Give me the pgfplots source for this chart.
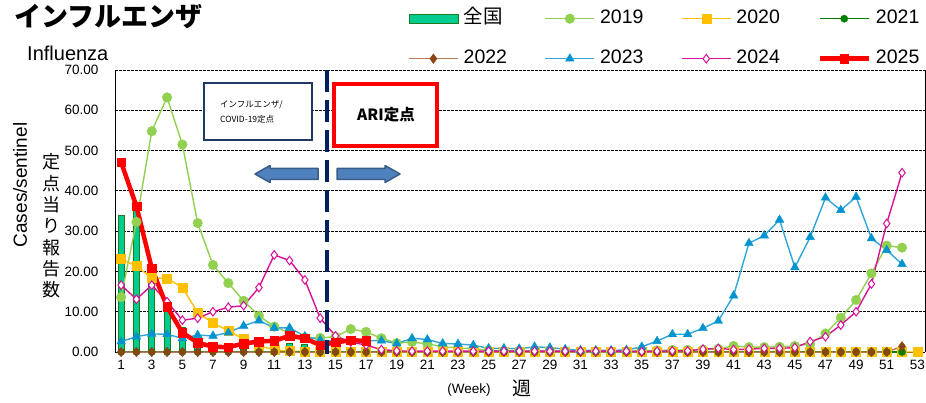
\documentclass[border=0pt]{standalone}
\usepackage{fontspec}
\setmainfont{Liberation Sans}
\newfontfamily\cjk{Noto Sans CJK JP}
\usepackage{pgfplots}
\usepackage{pgfplotstable}
\pgfplotsset{compat=1.18}
\definecolor{barfill}{HTML}{00CC8F}
\definecolor{bardraw}{HTML}{1E7B1E}
\definecolor{c19}{HTML}{92D050}
\definecolor{c20}{HTML}{FFC000}
\definecolor{c21}{HTML}{008000}
\definecolor{c22l}{HTML}{B97A57}
\definecolor{c22m}{HTML}{8B4513}
\definecolor{c23l}{HTML}{2EA6DA}
\definecolor{c23m}{HTML}{0093D0}
\definecolor{c24}{HTML}{D8119A}
\definecolor{c25}{HTML}{FF0000}
\definecolor{navy}{HTML}{002060}
\definecolor{boxnavy}{HTML}{1F3864}
\definecolor{arrfill}{HTML}{4F81BD}
\definecolor{arrdraw}{HTML}{385D8A}

\pgfplotstableread{
week y19 y20 y21 y22 y23 y24
1 13.6 23.1 0 0 2.6 16.6
2 32.3 21.3 0 0 3.8 13.1
3 54.8 18.4 0 0 4.5 16.6
4 63.2 18.3 0 0 4.4 12.5
5 51.5 16.0 0 0 3.4 7.9
6 32.0 9.8 0 0 4.2 8.4
7 21.6 7.2 0 0 4.0 10.0
8 17.1 5.3 0 0 4.8 11.1
9 12.7 3.2 0 0 6.5 11.5
10 9.0 1.5 0 0 7.8 16.0
11 6.3 0.6 0 0 6.0 24.1
12 4.7 0.2 0 0 6.0 22.7
13 3.6 0.1 0 0 3.9 17.9
14 3.5 0 0 0 3.0 8.4
15 3.8 0 0 0 2.6 4.0
16 5.7 0 0 0 2.6 2.5
17 5.0 0 0 0 2.8 1.7
18 3.4 0 0 0 2.8 0.6
19 2.2 0 0 0 2.1 0.3
20 2.5 0 0 0 3.4 0.2
21 2.0 0 0 0 3.1 0.2
22 1.3 0 0 0 2.1 0.2
23 1.0 0 0 0 2.0 0.2
24 0.8 0 0 0 1.7 0.2
25 0.4 0 0 0 0.9 0.2
26 0.3 0 0 0 0.9 0.2
27 0.3 0 0 0 0.8 0.2
28 0.2 0 0 0 1.3 0.2
29 0.2 0 0 0 1.1 0.2
30 0.2 0 0 0 0.7 0.2
31 0.2 0 0 0 0.4 0.2
32 0.2 0 0 0 0.4 0.2
33 0.2 0 0 0 0.4 0.2
34 0.2 0 0 0 0.5 0.2
35 0.3 0 0 0 1.3 0.1
36 0.4 0 0 0 2.7 0.2
37 0.5 0 0 0 4.4 0.3
38 0.5 0 0 0 4.4 0.3
39 0.6 0 0 0 5.9 0.7
40 0.8 0 0 0 7.7 0.9
41 1.5 0 0 0 14.0 0.6
42 1.2 0 0 0 27.0 0.7
43 1.2 0 0 0 28.9 0.9
44 1.3 0 0 0 32.8 0.9
45 1.5 0 0 0 21.0 1.1
46 2.0 0 0 0 28.5 2.6
47 4.6 0 0 0 38.3 3.8
48 8.5 0 0 0 35.2 6.7
49 12.9 0 0 0 38.5 10.0
50 19.5 0 0 0 28.2 16.9
51 26.4 0 0 0 25.3 31.9
52 25.9 0 0 1.4 21.8 44.5
53 nan 0 nan nan nan nan
}\yeardata

\pgfplotsset{
  lineleg/.style={legend image code/.code={%
    \draw[mark repeat=2, mark phase=2, ##1] plot coordinates {(0pt,0pt) (24.5pt,0pt) (49pt,0pt)};}},
}

\begin{document}
\begin{tikzpicture}[x=1pt,y=1pt]
\useasboundingbox (0,0) rectangle (926,402);
\begin{axis}[
  at={(115pt,50pt)}, anchor=south west,
  scale only axis, width=810pt, height=282pt,
  xmin=0.6, xmax=53.5, ymin=0, ymax=70,
  axis x line*=bottom, axis y line*=left,
  axis line style={black, line width=1pt},
  xtick={1,3,...,53}, ytick={0,10,...,70},
  major tick length=0pt,
  ymajorgrids,
  grid style={black, dash pattern=on 2.5pt off 1.5pt, line width=0.8pt},
  tick label style={font=\fontsize{13.5}{16}\selectfont},
  /pgf/number format/assume math mode=true,
  yticklabel style={/pgf/number format/.cd, fixed, fixed zerofill, precision=2, /tikz/.cd, xshift=-13pt},
  xticklabel style={yshift=-5pt},
  clip=false,
  legend style={draw=none, fill=none, at={(axis description cs:0.3617,1.111)}, anchor=west,
    legend columns=4, font=\fontsize{19.5}{23}\selectfont, inner sep=0pt, row sep=20pt,
    nodes={inner sep=1pt, text height=14pt, text depth=4pt},
    /tikz/every odd column/.append style={column sep=4pt}},
  legend cell align=left,
]
\addplot[ybar, bar width=6pt, fill=barfill, draw=bardraw, line width=0.8pt,
  legend image code/.code={\draw[fill=barfill, draw=bardraw, line width=0.8pt] (0pt,-4.5pt) rectangle (49pt,4.5pt);}]
  coordinates {(1,34.0) (2,35.5) (3,20.3) (4,12.0) (5,6.0) (6,3.0) (7,2.0) (8,1.5) (9,1.8) (10,2.0) (11,2.2) (12,2.1) (13,2.0) (14,1.0)};
\addlegendentry{\makebox[80pt][l]{\cjk 全国}}
\addplot[lineleg, color=c19, line width=1.4pt, mark=*, mark size=4.8pt, mark options={solid, line width=0.4pt}]
  table[x=week, y=y19] {\yeardata};
\addlegendentry{\makebox[80pt][l]{2019}}
\addplot[lineleg, color=c20, line width=1.4pt, mark=square*, mark size=4.5pt, mark options={solid, line width=0.4pt}]
  table[x=week, y=y20] {\yeardata};
\addlegendentry{\makebox[80pt][l]{2020}}
\addplot[lineleg, color=c21, line width=1.4pt, mark=*, mark size=3.6pt, mark options={solid, line width=0.4pt}]
  table[x=week, y=y21] {\yeardata};
\addlegendentry{\makebox[45pt][l]{2021}}
\addplot[lineleg, color=c22l, line width=1.5pt, mark=diamond*, mark size=4.8pt, mark options={solid, line width=0.4pt, fill=c22m, draw=c22m}]
  table[x=week, y=y22] {\yeardata};
\addlegendentry{\makebox[80pt][l]{2022}}
\addplot[lineleg, color=c23l, line width=1.4pt, mark=triangle*, mark size=5pt, mark options={solid, line width=0.4pt, fill=c23m, draw=c23m}]
  table[x=week, y=y23] {\yeardata};
\addlegendentry{\makebox[80pt][l]{2023}}
\addplot[lineleg, color=c24, line width=1.4pt, mark=diamond*, mark size=4.3pt, mark options={solid, line width=1pt, fill=white, draw=c24}]
  table[x=week, y=y24] {\yeardata};
\addlegendentry{\makebox[80pt][l]{2024}}
\addplot[lineleg, color=c25, line width=4.5pt, mark=square*, mark size=4.3pt, mark options={solid, line width=0.4pt}]
  coordinates {(1,47.1) (2,36.2) (3,20.8) (4,11.2) (5,4.8) (6,2.3) (7,1.3) (8,1.2) (9,2.1) (10,2.6) (11,2.8) (12,4.0) (13,3.4) (14,1.7) (15,2.4) (16,2.9) (17,2.8)};
\addlegendentry{\makebox[45pt][l]{2025}}
\draw[navy, line width=3.8pt, dash pattern=on 22pt off 8pt] (axis cs:14.45,70) -- (axis cs:14.45,-0.6);
\draw[black, line width=1pt] (rel axis cs:1,0) -- (rel axis cs:1,1);
\end{axis}
% title and labels
\node[anchor=west, inner sep=0pt, font=\cjk\bfseries\fontsize{27}{30}\selectfont] at (14,385) {インフルエンザ};
\node[anchor=west, inner sep=0pt, font=\fontsize{20}{24}\selectfont] at (27,349) {Influenza};
\node[rotate=90, inner sep=0pt, font=\fontsize{19}{22}\selectfont] at (20,217) {Cases/sentinel};
\node[align=center, inner sep=0pt, font=\cjk\fontsize{18}{21.3}\selectfont] at (51,176) {定\\点\\当\\り\\報\\告\\数};
\node[inner sep=0pt, font=\fontsize{13.5}{16}\selectfont] at (469,12) {(Week)};
\node[inner sep=0pt, font=\cjk\fontsize{19}{22}\selectfont] at (522,14) {週};
% boxes
\draw[boxnavy, line width=1.3pt, fill=white] (204,262) rectangle (312,319);
\node[anchor=west, align=left, inner sep=0pt, font=\cjk\fontsize{8.5}{15}\selectfont] at (220,290.5) {インフルエンザ/\\COVID-19定点};
\draw[red, line width=3.5pt, fill=white] (334,256) rectangle (437,318);
\node[inner sep=0pt, font=\cjk\bfseries\fontsize{15.5}{18}\selectfont] at (386,287) {ARI定点};
% arrows
\draw[arrdraw, line width=1.5pt, fill=arrfill, line join=round]
  (255,228) -- (270,236.5) -- (270,233.5) -- (318,233.5) -- (318,222.5) -- (270,222.5) -- (270,219.5) -- cycle;
\draw[arrdraw, line width=1.5pt, fill=arrfill, line join=round]
  (400,228) -- (385,236.5) -- (385,233.5) -- (337,233.5) -- (337,222.5) -- (385,222.5) -- (385,219.5) -- cycle;
\end{tikzpicture}
\end{document}
